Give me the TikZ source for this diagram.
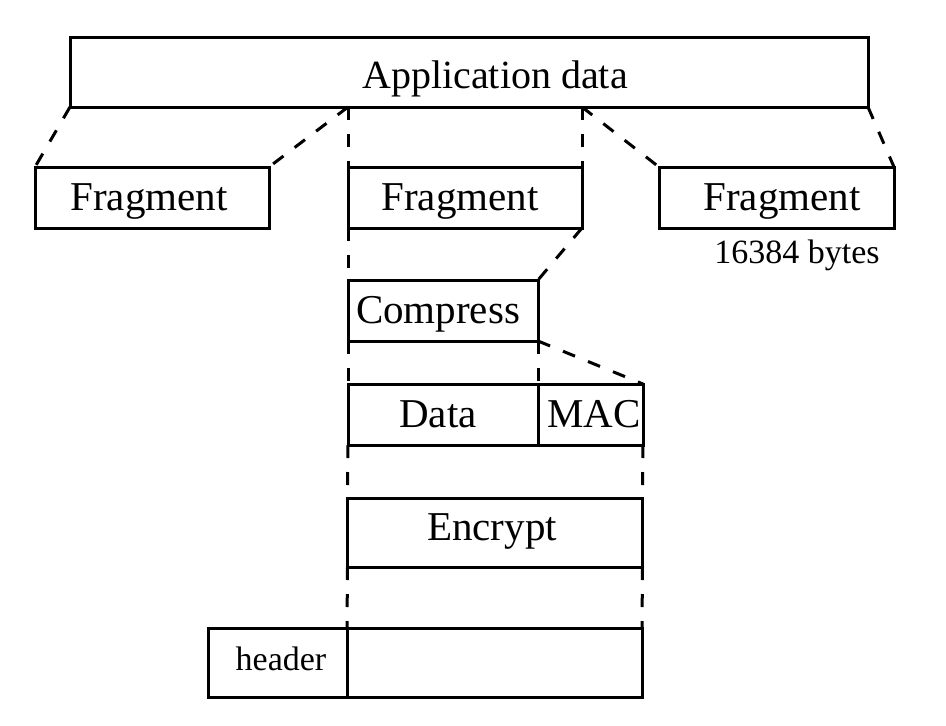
\documentclass[tikz,border=0pt]{standalone}
\usepackage{fontspec}
\setmainfont{Liberation Serif}
\begin{document}
\begin{tikzpicture}[x=1pt,y=-1pt,
  box/.style={draw,line width=3pt,inner sep=0pt,outer sep=0pt,line join=miter},
  conn/.style={line width=3pt,dash pattern=on 13pt off 14pt},
  lbl/.style={inner sep=0pt,anchor=base,font=\fontsize{41}{48}\selectfont},
  small/.style={inner sep=0pt,anchor=base,font=\fontsize{34}{40}\selectfont}]
\useasboundingbox (0,0) rectangle (946,726);
% boxes
\node[box,minimum width=798pt,minimum height=70pt] (app) at (469,72) {};
\node[box,minimum width=234pt,minimum height=61pt] (f1) at (152,197.5) {};
\node[box,minimum width=234pt,minimum height=61pt] (f2) at (465,197.5) {};
\node[box,minimum width=235pt,minimum height=61pt] (f3) at (776.5,197.5) {};
\node[box,minimum width=190pt,minimum height=61pt] (comp) at (443,310.5) {};
\node[box,minimum width=190pt,minimum height=61pt] (data) at (443,414.5) {};
\node[box,minimum width=105pt,minimum height=61pt] (mac) at (590.5,414.5) {};
\node[box,minimum width=295pt,minimum height=69pt] (enc) at (495,532.5) {};
\node[box,minimum width=139pt,minimum height=69pt] (hdr) at (277.5,662.5) {};
\node[box,minimum width=295pt,minimum height=69pt] (pay) at (494.5,662.5) {};
% labels
\node[lbl,font=\fontsize{40}{48}\selectfont] (tapp) at (495,88) {Application data};
\node[lbl] (tf1) at (149,210) {Fragment};
\node[lbl] (tf2) at (460,210) {Fragment};
\node[lbl] (tf3) at (782,210) {Fragment};
\node[small] (tbytes) at (797,263) {16384 bytes};
\node[lbl] (tcomp) at (438,323) {Compress};
\node[lbl] (tdata) at (438,427) {Data};
\node[lbl] (tmac) at (594,427) {MAC};
\node[lbl] (tenc) at (492,540) {Encrypt};
\node[small] (thdr) at (281,670) {header};
% connectors
\coordinate (aL) at (f2.north west |- app.south);
\coordinate (aR) at (f2.north east |- app.south);
\draw[conn] (app.south west) -- (f1.north west);
\draw[conn] (aL) -- (f1.north east);
\draw[conn] (aL) -- (f2.north west);
\draw[conn] (aR) -- (f2.north east);
\draw[conn] (aR) -- (f3.north west);
\draw[conn] (app.south east) -- (f3.north east);
\draw[conn] (f2.south west) -- (comp.north west);
\draw[conn] (f2.south east) -- (comp.north east);
\draw[conn] (comp.south west) -- (data.north west);
\draw[conn] (comp.south east) -- (data.north east);
\draw[conn] (comp.south east) -- (mac.north east);
\draw[conn] (data.south west) -- (enc.north west);
\draw[conn] (mac.south east) -- (enc.north east);
\draw[conn] (enc.south west) -- (pay.north west);
\draw[conn] (enc.south east) -- (pay.north east);
\end{tikzpicture}
\end{document}
